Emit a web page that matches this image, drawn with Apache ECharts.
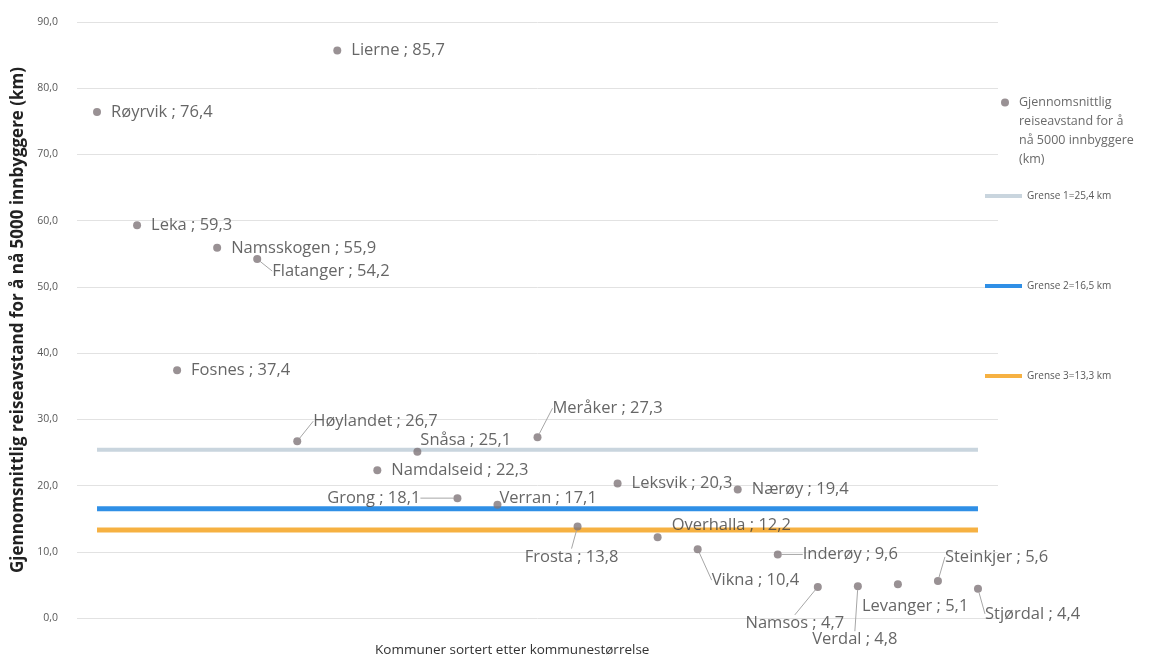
<!DOCTYPE html>
<html>
<head>
<meta charset="utf-8">
<script src="https://cdn.jsdelivr.net/npm/echarts@6/dist/echarts.min.js"></script>
<style>html,body{margin:0;padding:0;background:#fff}#c{width:1150px;height:658px}</style>
</head>
<body>
<div id="c"></div>
<script>
// Data
const names = ['Røyrvik','Leka','Fosnes','Namsskogen','Flatanger','Høylandet','Lierne','Namdalseid','Snåsa','Grong','Verran','Meråker','Frosta','Leksvik','Overhalla','Vikna','Nærøy','Inderøy','Namsos','Verdal','Levanger','Steinkjer','Stjørdal'];
const values = [76.4,59.3,37.4,55.9,54.2,26.7,85.7,22.3,25.1,18.1,17.1,27.3,13.8,20.3,12.2,10.4,19.4,9.6,4.7,4.8,5.1,5.6,4.4];
const limitNames = ['Grense 1=25,4 km','Grense 2=16,5 km','Grense 3=13,3 km'];
const limitValues = [25.4, 16.5, 13.3];
const yTicks = [0,10,20,30,40,50,60,70,80,90];
const scatterName = 'Gjennomsnittlig\nreiseavstand for å\nnå 5000 innbyggere\n(km)';

// Label style (placement only)
const labelPos = {9:'left',12:'bottom',18:'bottom',19:'bottom'};
const labelShift = {4:[1,12],5:[2,-20],8:[-11,-11],9:[-23,0],10:[-12,-6],11:[1,-29],12:[-6,8],14:[0,-12],15:[0,31],17:[11,0],18:[-23,14],19:[-3,31],20:[-50,22],21:[-7,-24],22:[-7,25]};
const withLine = [4,5,9,11,12,15,17,18,19,21,22];

const fmt = v => v.toFixed(1).replace('.', ',');
const limitColors = ['#c9d5de','#2f8fe6','#f6b142'];
const limitWidths = [4,5,5];
const FONT = 'Open Sans';

const scatterData = values.map((v,i) => ({
  value:[i,v], name:names[i],
  label:{position: labelPos[i] || 'right'},
  labelLine:{show: withLine.indexOf(i) >= 0}
}));

const series = [{
  name: scatterName, type:'scatter', data: scatterData, symbolSize: 8,
  itemStyle:{color:'#7f7579'},
  label:{show:true, distance:10, fontFamily:FONT, fontSize:16.5, color:'#404040',
    formatter: p => p.name + ' ; ' + fmt(p.value[1])},
  labelLine:{lineStyle:{color:'#a6a6a6', width:1}},
  labelLayout: p => { const s = labelShift[p.dataIndex] || [0,0]; return {dx:s[0], dy:s[1]}; },
  z: 5
}];
limitValues.forEach((v,k) => {
  series.push({
    name: limitNames[k], type:'line', data:[[0,v],[names.length-1,v]],
    symbol:'none', lineStyle:{color:limitColors[k], width:limitWidths[k]},
    itemStyle:{color:limitColors[k]}, silent:true, z:2
  });
});

const chart = echarts.init(document.getElementById('c'));
chart.setOption({
  animation:false,
  textStyle:{fontFamily:FONT},
  title:{text:'Kommuner sortert etter kommunestørrelse', left:370, top:638,
    textStyle:{fontFamily:FONT, fontSize:13.5, fontWeight:'normal', color:'#333'}},
  grid:{left:77, right:152, top:22, bottom:40, containLabel:false, outerBoundsMode:'none'},
  xAxis:{type:'value', min:-0.5, max:names.length-0.5, show:false},
  yAxis:{type:'value', min:yTicks[0], max:yTicks[yTicks.length-1], interval:10,
    name:'Gjennomsnittlig reiseavstand for å nå 5000 innbyggere (km)',
    nameLocation:'middle', nameGap:47, nameRotate:90,
    nameTextStyle:{fontFamily:FONT, fontSize:17, fontWeight:'bold', color:'#222'},
    axisLine:{show:false}, axisTick:{show:false},
    axisLabel:{fontFamily:FONT, fontSize:10.5, color:'#595959', formatter: v => fmt(v), margin:19},
    splitLine:{lineStyle:{color:'#e2e2e2'}}},
  legend:[{
    data:[{name:scatterName, icon:'circle'}], orient:'vertical', left:1001, top:36, padding:0,
    itemWidth:18, itemHeight:8, selectedMode:false,
    formatter: n => ' \n \n \n' + n,
    textStyle:{fontFamily:FONT, fontSize:12.5, color:'#6a6a6a', lineHeight:19}
  },{
    data: limitNames.map((n,k)=>({name:n, icon:'rect', itemStyle:{color:limitColors[k]}})),
    orient:'vertical', left:985, top:189, padding:0, itemWidth:37, itemHeight:4, itemGap:76,
    selectedMode:false,
    textStyle:{fontFamily:FONT, fontSize:10, color:'#595959', lineHeight:14}
  }],
  series: series
});
</script>
</body>
</html>
